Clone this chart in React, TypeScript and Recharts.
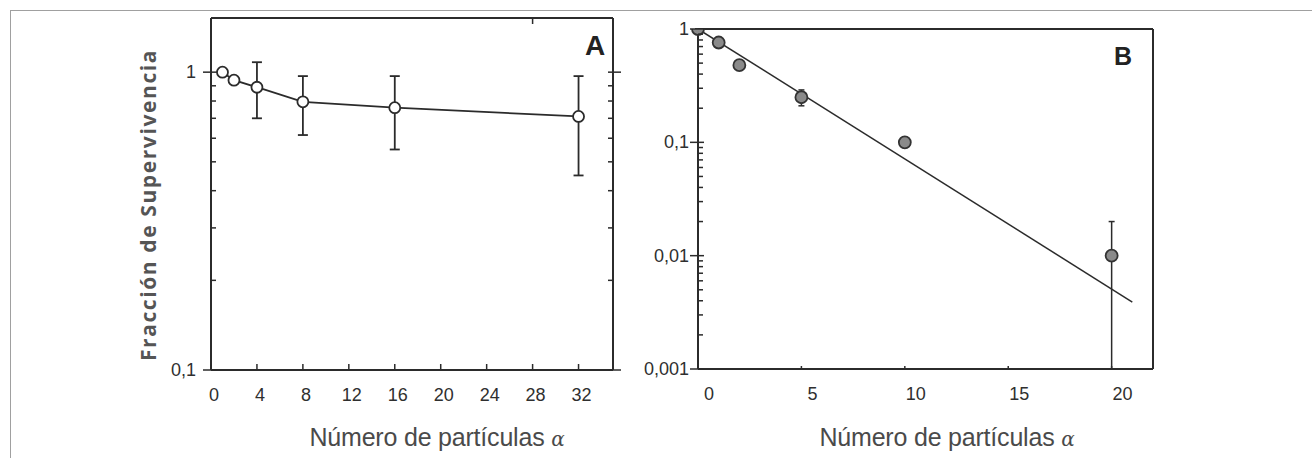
import React from 'react';
import { LineChart, ComposedChart, Line, Scatter, XAxis, YAxis, ErrorBar } from 'recharts';

// Panel A: survival fraction vs number of alpha particles
const aX = [1, 2, 4, 8, 16, 32];
const aY = [1.0, 0.94, 0.89, 0.795, 0.76, 0.71];
const aLow = [1.0, 0.94, 0.7, 0.615, 0.55, 0.45];
const aHigh = [1.0, 0.94, 1.08, 0.97, 0.97, 0.97];
const aXTicks = [0, 4, 8, 12, 16, 20, 24, 28, 32];
const aYTicks = [0.1, 0.2, 0.3, 0.4, 0.5, 0.6, 0.7, 0.8, 0.9, 1];

// Panel B: measured points + fitted exponential line
const bX = [0, 1, 2, 5, 10, 20];
const bY = [1.0, 0.76, 0.48, 0.25, 0.1, 0.01];
const bLow = [1.0, 0.76, 0.48, 0.21, 0.1, 0.001];
const bHigh = [1.0, 0.76, 0.48, 0.29, 0.1, 0.02];
const bFitX = [0, 21];
const bFitY = [1, 0.0039];
const bXTicks = [0, 5, 10, 15, 20];
const bYTicks = [
  0.001, 0.002, 0.003, 0.004, 0.005, 0.006, 0.007, 0.008, 0.009,
  0.01, 0.02, 0.03, 0.04, 0.05, 0.06, 0.07, 0.08, 0.09,
  0.1, 0.2, 0.3, 0.4, 0.5, 0.6, 0.7, 0.8, 0.9, 1,
];

const yLabel: Record<string, string> = { '1': '1', '0.1': '0,1', '0.01': '0,01', '0.001': '0,001' };

const dataA = aX.map((x, i) => ({ x, y: aY[i], err: [aY[i] - aLow[i], aHigh[i] - aY[i]] }));
const dataB = bX.map((x, i) => ({ x, y: bY[i], err: [bY[i] - bLow[i], bHigh[i] - bY[i]] }));
const fitB = bFitX.map((x, i) => ({ x, y: bFitY[i] }));

const INK = '#2b2b2b';
const TXT = '#2f2f2f';
const FONT = '"Liberation Sans", Arial, sans-serif';

const isMajor = (v: number) => yLabel[String(v)] !== undefined;

const LeftTick = ({ x, y, payload, labelGap }: any) => {
  const v = payload.value;
  const major = isMajor(v);
  return (
    <g>
      <line x1={major ? x - 8 : x} x2={x + (major ? 6 : 5)} y1={y} y2={y} stroke={INK} strokeWidth={1.5} />
      {major && (
        <text x={x - labelGap} y={y + 6} textAnchor="end" fontSize={18} fill={TXT} fontFamily={FONT}>
          {yLabel[String(v)]}
        </text>
      )}
    </g>
  );
};

const RightTick = ({ x, y, payload }: any) => {
  const major = isMajor(payload.value);
  return <line x1={x - 5} x2={x + (major ? 8 : 1)} y1={y} y2={y} stroke={INK} strokeWidth={1.5} />;
};

const BottomTick = ({ x, y, payload, dx, len }: any) => (
  <g>
    <line x1={x} x2={x} y1={y} y2={y - len} stroke={INK} strokeWidth={1.5} />
    <text x={x + dx} y={y + 31} textAnchor="middle" fontSize={18} fill={TXT} fontFamily={FONT}>
      {payload.value}
    </text>
  </g>
);

const TopTick = ({ x, y, payload }: any) =>
  payload.value === 0 ? <g /> : <line x1={x} x2={x} y1={y} y2={y + 6} stroke={INK} strokeWidth={1.5} />;

const OpenDot = (p: any) => <circle cx={p.cx} cy={p.cy} r={5.5} fill="#fff" stroke={INK} strokeWidth={1.8} />;
const GrayDot = (p: any) => <circle cx={p.cx} cy={p.cy} r={6} fill="#8a8a8a" stroke="#333" strokeWidth={1.8} />;

const xTitle: React.CSSProperties = {
  position: 'absolute',
  top: 437,
  transform: 'translate(-50%, -50%)',
  fontFamily: FONT,
  fontSize: 25,
  color: '#4a4a4a',
  whiteSpace: 'nowrap',
  letterSpacing: -0.2,
};

const alpha: React.CSSProperties = { fontFamily: '"DejaVu Serif", serif', fontStyle: 'italic', fontSize: 20 };

export default function App() {
  return (
    <div style={{ position: 'absolute', left: 0, top: 0, width: 1312, height: 458, background: '#fff' }}>
      <div
        style={{
          position: 'absolute',
          left: 10,
          top: 10,
          width: 1302,
          height: 448,
          borderTop: '1px solid #a0a0a0',
          borderLeft: '1px solid #a0a0a0',
          boxSizing: 'border-box',
        }}
      />

      <div style={{ position: 'absolute', left: 130, top: 0 }}>
        <LineChart width={520} height={458} data={dataA} margin={{ top: 8, right: 17, bottom: 48, left: 21 }}>
          <XAxis
            dataKey="x"
            type="number"
            domain={[0, 35]}
            ticks={aXTicks}
            interval={0}
            height={40}
            tickSize={0}
            tickMargin={0}
            tickLine={false}
            axisLine={{ stroke: INK, strokeWidth: 2 }}
            tick={<BottomTick dx={3} len={6} />}
          />
          <XAxis
            xAxisId="top"
            orientation="top"
            type="number"
            domain={[0, 35]}
            ticks={aXTicks}
            interval={0}
            height={10}
            tickSize={0}
            tickMargin={0}
            tickLine={false}
            axisLine={{ stroke: INK, strokeWidth: 2 }}
            tick={<TopTick />}
          />
          <YAxis
            type="number"
            scale="log"
            domain={[0.1, 1.52]}
            allowDataOverflow
            ticks={aYTicks}
            interval={0}
            width={60}
            tickSize={0}
            tickMargin={0}
            tickLine={false}
            axisLine={{ stroke: INK, strokeWidth: 2 }}
            tick={<LeftTick labelGap={15} />}
          />
          <YAxis
            yAxisId="right"
            orientation="right"
            type="number"
            scale="log"
            domain={[0.1, 1.52]}
            allowDataOverflow
            ticks={aYTicks}
            interval={0}
            width={20}
            tickSize={0}
            tickMargin={0}
            tickLine={false}
            axisLine={{ stroke: INK, strokeWidth: 2 }}
            tick={<RightTick />}
          />
          <Line
            dataKey="y"
            stroke={INK}
            strokeWidth={1.8}
            dot={<OpenDot />}
            activeDot={false}
            isAnimationActive={false}
          >
            <ErrorBar dataKey="err" width={5} stroke={INK} strokeWidth={1.8} />
          </Line>
        </LineChart>
      </div>

      <div style={{ position: 'absolute', left: 640, top: 0 }}>
        <ComposedChart width={540} height={458} margin={{ top: 19, right: 17, bottom: 49, left: 8 }}>
          <XAxis
            dataKey="x"
            type="number"
            domain={[0, 22]}
            ticks={bXTicks}
            interval={0}
            height={40}
            tickSize={0}
            tickMargin={0}
            tickLine={false}
            axisLine={{ stroke: INK, strokeWidth: 2 }}
            tick={<BottomTick dx={11} len={3} />}
          />
          <XAxis
            xAxisId="top"
            orientation="top"
            type="number"
            domain={[0, 22]}
            height={10}
            tick={false}
            tickLine={false}
            axisLine={{ stroke: INK, strokeWidth: 2 }}
          />
          <YAxis
            type="number"
            scale="log"
            domain={[0.001, 1]}
            allowDataOverflow
            ticks={bYTicks}
            interval={0}
            width={50}
            tickSize={0}
            tickMargin={0}
            tickLine={false}
            axisLine={{ stroke: INK, strokeWidth: 2 }}
            tick={<LeftTick labelGap={9} />}
          />
          <YAxis
            yAxisId="right"
            orientation="right"
            type="number"
            scale="log"
            domain={[0.001, 1]}
            width={10}
            tick={false}
            tickLine={false}
            axisLine={{ stroke: INK, strokeWidth: 2 }}
          />
          <Line
            data={fitB}
            dataKey="y"
            stroke={INK}
            strokeWidth={1.5}
            dot={false}
            activeDot={false}
            isAnimationActive={false}
          />
          <Scatter data={dataB} dataKey="y" shape={<GrayDot />} isAnimationActive={false}>
            <ErrorBar dataKey="err" direction="y" width={3} stroke={INK} strokeWidth={1.5} />
          </Scatter>
        </ComposedChart>
      </div>

      <div
        style={{
          position: 'absolute',
          left: 148,
          top: 205,
          transform: 'translate(-50%, -50%) rotate(-90deg)',
          fontFamily: '"Open Sans", sans-serif',
          fontWeight: 700,
          fontSize: 21,
          color: '#555',
          whiteSpace: 'nowrap',
          letterSpacing: 1.6,
        }}
      >
        Fracción de Supervivencia
      </div>

      <div style={{ ...xTitle, left: 437 }}>
        Número de partículas <span style={alpha}>α</span>
      </div>
      <div style={{ ...xTitle, left: 947 }}>
        Número de partículas <span style={alpha}>α</span>
      </div>

      <div
        style={{
          position: 'absolute',
          left: 595,
          top: 46,
          transform: 'translate(-50%, -50%)',
          fontFamily: FONT,
          fontWeight: 700,
          fontSize: 28,
          color: '#222',
        }}
      >
        A
      </div>
      <div
        style={{
          position: 'absolute',
          left: 1123,
          top: 56,
          transform: 'translate(-50%, -50%)',
          fontFamily: FONT,
          fontWeight: 700,
          fontSize: 25,
          color: '#222',
        }}
      >
        B
      </div>
    </div>
  );
}
